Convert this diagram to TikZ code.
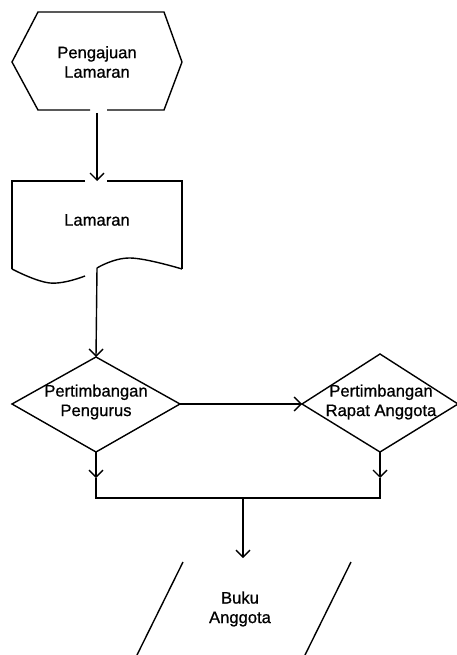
\documentclass[tikz,border=0pt]{standalone}
\usepackage{fontspec}
\setmainfont{Liberation Sans}
\newfontfamily\labelfont{Liberation Sans}[FakeBold=0.8]
\usetikzlibrary{arrows.meta}
\begin{document}
\begin{tikzpicture}[x=1pt,y=-1pt,
  outline/.style={line width=1.4pt,line join=miter},
  flow/.style={line width=1.4pt,-{Straight Barb[length=7pt,width=14pt,line width=1.4pt]}},
  plain/.style={line width=1.4pt},
  label/.style={font=\labelfont\fontsize{16.6}{19.5}\selectfont,align=center,inner sep=0pt}]
\useasboundingbox (0,0) rectangle (457,655);

% start: hexagon
\draw[outline] (90,110) -- (38,110) -- (12,62) -- (38,12) -- (164,12) -- (182,62) -- (164,110) -- (107,110);
\node[label] (start) at (97,62) {Pengajuan\\Lamaran};
\coordinate (startout) at (97,113);

% document
\draw[outline] (85,181) -- (12,181) -- (12,269);
\draw[outline] (107,181) -- (182,181) -- (182,269);
\draw[outline] plot[smooth,tension=0.7] coordinates {(12,269) (50,283) (85,276)};
\draw[outline] plot[smooth,tension=0.7] coordinates {(97,268) (130,258) (182,269)};
\node[label] (doc) at (97,220) {Lamaran};
\coordinate (docin) at (97,181);
\coordinate (docout) at (97,268);

% first decision
\coordinate (d1t) at (96,357);
\coordinate (d1l) at (12,404);
\coordinate (d1r) at (180,404);
\coordinate (d1b) at (96,452);
\draw[outline] (d1t) -- (d1r) -- (d1b) -- (d1l) -- cycle;
\node[label] (dec1) at (96,402) {Pertimbangan\\Pengurus};

% second decision
\coordinate (d2t) at (380,354);
\coordinate (d2l) at (302,404);
\coordinate (d2r) at (458,404);
\coordinate (d2b) at (380,452);
\draw[outline] (d2t) -- (d2r) -- (d2b) -- (d2l) -- cycle;
\node[label] (dec2) at (381,402) {Pertimbangan\\Rapat Anggota};

% output: open parallelogram sides
\draw[outline] (183,562) -- (137,655);
\draw[outline] (351,562) -- (305,655);
\node[label] (book) at (240,609) {Buku\\Anggota};
\coordinate (bookin) at (243,558);

% junction of both decisions
\coordinate (m1) at (96,478);
\coordinate (m2) at (380,478);
\coordinate (j1) at (96,498);
\coordinate (j2) at (380,498);
\coordinate (jm) at (243,498);

% connectors
\draw[flow] (startout) -- (docin);
\draw[flow] (docout) -- (d1t);
\draw[flow] (d1r) -- (d2l);
\draw[flow] (d1b) -- (m1);
\draw[flow] (d2b) -- (m2);
\draw[plain] (m1) -- (j1) -- (j2) -- (m2);
\draw[flow] (jm) -- (bookin);
\end{tikzpicture}
\end{document}
